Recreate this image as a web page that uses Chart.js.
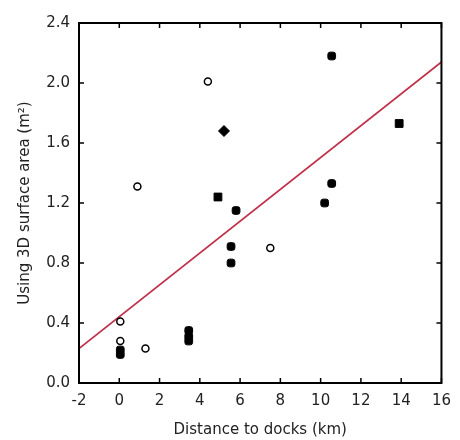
<!DOCTYPE html>
<html>
<head>
<meta charset="utf-8">
<script src="https://cdn.jsdelivr.net/npm/chart.js@4"></script>
<style>
  html, body { margin: 0; padding: 0; background: #fff; }
  #wrap { width: 460px; height: 440px; }
</style>
</head>
<body>
<div id="wrap"><canvas id="chart" width="460" height="440"></canvas></div>
<script>
// Open (hollow) markers
const openX = [0.05, 0.05, 1.3, 0.9, 4.4, 7.5];
const openY = [0.41, 0.28, 0.23, 1.31, 2.01, 0.9];

// Filled markers
const filledX = [0.05, 0.05, 3.45, 3.45, 3.45, 4.9, 5.2, 5.55, 5.55, 5.8, 10.2, 10.55, 10.55, 13.9];
const filledY = [0.22, 0.19, 0.35, 0.31, 0.28, 1.24, 1.68, 0.91, 0.8, 1.15, 1.2, 1.33, 2.18, 1.73];
const filledStyles = ['rectRounded', 'rectRounded', 'rectRounded', 'rectRounded', 'rectRounded', 'rect', 'rectRot',
    'rectRounded', 'rectRounded', 'rectRounded', 'rectRounded', 'rectRounded', 'rectRounded', 'rect'];

// Regression line end points
const trendX = [-2, 16];
const trendY = [0.23, 2.14];

// Axis ticks
const xTicks = [-2, 0, 2, 4, 6, 8, 10, 12, 14, 16];
const yTicks = [0.0, 0.4, 0.8, 1.2, 1.6, 2.0, 2.4];

const toPoints = (xs, ys) => xs.map((x, i) => ({ x: x, y: ys[i] }));

// Draw the box frame with inward tick marks on all four sides
const framePlugin = {
    id: 'frame',
    afterDraw(chart) {
        const ctx = chart.ctx;
        const a = chart.chartArea;
        const xs = chart.scales.x;
        const ys = chart.scales.y;
        ctx.save();
        ctx.strokeStyle = '#000';
        ctx.lineWidth = 2;
        ctx.strokeRect(a.left, a.top, a.right - a.left, a.bottom - a.top);
        ctx.lineWidth = 1.5;
        ctx.beginPath();
        xTicks.forEach(v => {
            const px = xs.getPixelForValue(v);
            ctx.moveTo(px, a.bottom);
            ctx.lineTo(px, a.bottom - 5);
            ctx.moveTo(px, a.top);
            ctx.lineTo(px, a.top + 5);
        });
        yTicks.forEach(v => {
            const py = ys.getPixelForValue(v);
            ctx.moveTo(a.left, py);
            ctx.lineTo(a.left + 5, py);
            ctx.moveTo(a.right, py);
            ctx.lineTo(a.right - 5, py);
        });
        ctx.stroke();
        ctx.restore();
    }
};

const tickFont = { family: 'DejaVu Sans, sans-serif', size: 15 };
const titleFont = { family: 'DejaVu Sans, sans-serif', size: 15 };

new Chart(document.getElementById('chart'), {
    type: 'scatter',
    data: {
        datasets: [
            {
                type: 'line',
                data: toPoints(trendX, trendY),
                borderColor: '#c0304a',
                borderWidth: 1.6,
                pointRadius: 0,
                fill: false,
                order: 3
            },
            {
                data: toPoints(openX, openY),
                pointStyle: 'circle',
                pointRadius: 3.5,
                backgroundColor: '#fff',
                borderColor: '#000',
                borderWidth: 1.5,
                order: 1
            },
            {
                data: toPoints(filledX, filledY),
                pointStyle: filledStyles,
                pointRadius: filledStyles.map(s => s === 'rectRounded' ? 4.5 : 5.5),
                backgroundColor: '#000',
                borderColor: '#000',
                borderWidth: 1,
                order: 2
            }
        ]
    },
    options: {
        responsive: false,
        animation: false,
        layout: { padding: { left: 0, right: 9, top: 23, bottom: 0 } },
        plugins: {
            legend: { display: false },
            tooltip: { enabled: false }
        },
        scales: {
            x: {
                type: 'linear',
                min: -2,
                max: 16,
                afterBuildTicks: s => { s.ticks = xTicks.map(v => ({ value: v })); },
                afterFit: s => { s.height = 57; },
                grid: { display: false, drawTicks: false },
                border: { display: false },
                ticks: { color: '#222', font: tickFont, padding: 9, maxRotation: 0 },
                title: {
                    display: true,
                    text: 'Distance to docks (km)',
                    color: '#222',
                    font: titleFont,
                    padding: { top: 4, bottom: 1 }
                }
            },
            y: {
                type: 'linear',
                min: 0,
                max: 2.4,
                afterBuildTicks: s => { s.ticks = yTicks.map(v => ({ value: v })); },
                afterFit: s => { s.width = 79; },
                grid: { display: false, drawTicks: false },
                border: { display: false },
                ticks: {
                    color: '#222',
                    font: tickFont,
                    padding: 9,
                    callback: v => v.toFixed(1)
                },
                title: {
                    display: true,
                    text: 'Using 3D surface area (m²)',
                    color: '#222',
                    font: titleFont,
                    padding: { top: 16, bottom: 0 }
                }
            }
        }
    },
    plugins: [framePlugin]
});
</script>
</body>
</html>
